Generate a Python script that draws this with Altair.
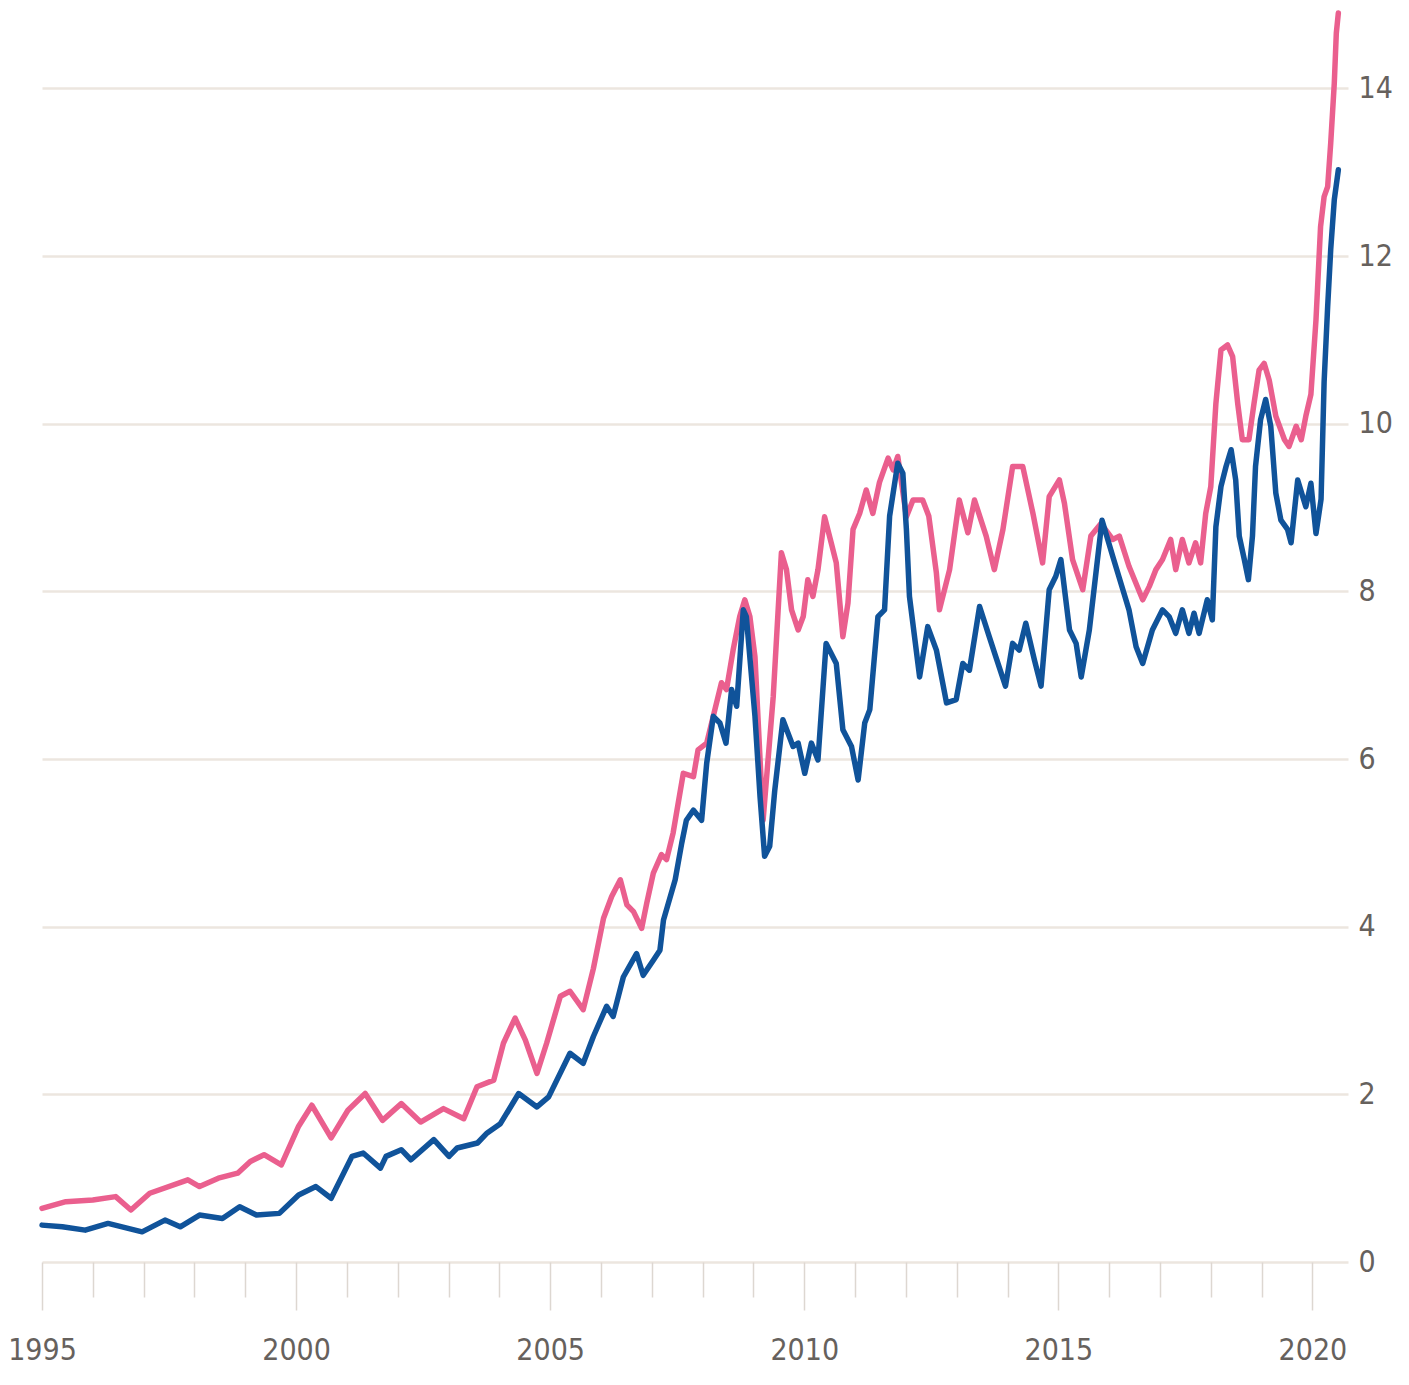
import altair as alt
import pandas as pd

pink_year = [1995.0, 1995.47, 1996.0, 1996.45, 1996.75, 1997.12, 1997.87, 1998.1, 1998.47, 1998.85,
             1999.1, 1999.37, 1999.71, 2000.05, 2000.31, 2000.69, 2001.02, 2001.36, 2001.7, 2002.07,
             2002.45, 2002.9, 2003.3, 2003.56, 2003.89, 2004.08, 2004.31, 2004.51, 2004.74, 2004.93,
             2005.2, 2005.39, 2005.65, 2005.85, 2006.05, 2006.21, 2006.38, 2006.51, 2006.64, 2006.8,
             2006.9, 2007.03, 2007.19, 2007.29, 2007.42, 2007.62, 2007.82, 2007.91, 2008.08, 2008.37,
             2008.47, 2008.6, 2008.73, 2008.83, 2008.93, 2009.03, 2009.19, 2009.39, 2009.55, 2009.65,
             2009.75, 2009.88, 2009.98, 2010.07, 2010.17, 2010.27, 2010.4, 2010.53, 2010.63, 2010.76,
             2010.86, 2010.96, 2011.09, 2011.22, 2011.35, 2011.48, 2011.65, 2011.75, 2011.84, 2012.01,
             2012.14, 2012.33, 2012.45, 2012.6, 2012.66, 2012.86, 2013.05, 2013.22, 2013.35, 2013.58,
             2013.74, 2013.91, 2014.1, 2014.3, 2014.5, 2014.69, 2014.82, 2015.02, 2015.12, 2015.28,
             2015.48, 2015.64, 2015.84, 2016.07, 2016.2, 2016.39, 2016.66, 2016.79, 2016.92, 2017.05,
             2017.21, 2017.31, 2017.44, 2017.57, 2017.7, 2017.8, 2017.9, 2018.0, 2018.1, 2018.2,
             2018.33, 2018.43, 2018.53, 2018.62, 2018.75, 2018.85, 2018.95, 2019.05, 2019.15, 2019.28,
             2019.45, 2019.54, 2019.68, 2019.78, 2019.87, 2019.97, 2020.07, 2020.16, 2020.23, 2020.3,
             2020.36, 2020.43, 2020.47, 2020.51]
pink_value = [0.64, 0.72, 0.74, 0.78, 0.62, 0.82, 0.98, 0.90, 1.00, 1.06,
              1.20, 1.28, 1.16, 1.62, 1.87, 1.48, 1.81, 2.01, 1.69, 1.89,
              1.67, 1.83, 1.71, 2.09, 2.17, 2.61, 2.91, 2.65, 2.25, 2.61,
              3.17, 3.23, 3.01, 3.50, 4.10, 4.36, 4.56, 4.26, 4.18, 3.98,
              4.28, 4.64, 4.86, 4.80, 5.12, 5.83, 5.79, 6.11, 6.19, 6.91,
              6.83, 7.30, 7.70, 7.90, 7.70, 7.22, 5.27, 6.75, 8.46, 8.26,
              7.78, 7.54, 7.70, 8.14, 7.94, 8.26, 8.89, 8.58, 8.34, 7.46,
              7.86, 8.74, 8.93, 9.21, 8.93, 9.30, 9.59, 9.45, 9.61, 8.89,
              9.09, 9.09, 8.90, 8.22, 7.78, 8.26, 9.09, 8.70, 9.09, 8.66,
              8.26, 8.74, 9.49, 9.49, 8.93, 8.34, 9.13, 9.33, 9.05, 8.38,
              8.02, 8.66, 8.81, 8.62, 8.66, 8.30, 7.90, 8.06, 8.26, 8.38,
              8.62, 8.26, 8.62, 8.34, 8.58, 8.34, 8.93, 9.25, 10.24, 10.88,
              10.94, 10.80, 10.24, 9.81, 9.81, 10.24, 10.64, 10.72, 10.52, 10.09,
              9.81, 9.73, 9.97, 9.81, 10.09, 10.35, 11.24, 12.35, 12.71, 12.83,
              13.35, 14.06, 14.66, 14.90]

blue_year = [1995.0, 1995.4, 1995.85, 1996.3, 1996.97, 1997.42, 1997.72, 1998.1, 1998.55, 1998.89,
             1999.22, 1999.67, 2000.05, 2000.39, 2000.69, 2001.1, 2001.32, 2001.66, 2001.77, 2002.07,
             2002.26, 2002.71, 2003.01, 2003.17, 2003.57, 2003.76, 2004.02, 2004.38, 2004.74, 2004.97,
             2005.39, 2005.65, 2005.85, 2006.11, 2006.24, 2006.44, 2006.7, 2006.83, 2007.03, 2007.16,
             2007.23, 2007.46, 2007.59, 2007.68, 2007.82, 2007.98, 2008.08, 2008.21, 2008.34, 2008.46,
             2008.57, 2008.67, 2008.8, 2008.86, 2009.03, 2009.13, 2009.22, 2009.32, 2009.42, 2009.58,
             2009.78, 2009.88, 2010.01, 2010.14, 2010.27, 2010.43, 2010.63, 2010.76, 2010.93, 2011.06,
             2011.19, 2011.29, 2011.45, 2011.58, 2011.68, 2011.84, 2011.94, 2012.01, 2012.07, 2012.27,
             2012.43, 2012.6, 2012.8, 2012.99, 2013.12, 2013.25, 2013.45, 2013.64, 2013.77, 2013.96,
             2014.1, 2014.23, 2014.36, 2014.53, 2014.66, 2014.82, 2014.95, 2015.05, 2015.22, 2015.35,
             2015.45, 2015.61, 2015.86, 2016.07, 2016.27, 2016.39, 2016.53, 2016.66, 2016.85, 2017.05,
             2017.18, 2017.31, 2017.44, 2017.57, 2017.67, 2017.77, 2017.93, 2018.03, 2018.1, 2018.2,
             2018.3, 2018.4, 2018.49, 2018.56, 2018.66, 2018.74, 2018.82, 2018.88, 2018.98, 2019.08,
             2019.18, 2019.28, 2019.38, 2019.51, 2019.58, 2019.71, 2019.87, 2019.97, 2020.07, 2020.17,
             2020.23, 2020.3, 2020.36, 2020.43, 2020.51]
blue_value = [0.44, 0.42, 0.38, 0.46, 0.36, 0.50, 0.42, 0.56, 0.52, 0.66,
              0.56, 0.58, 0.80, 0.90, 0.76, 1.26, 1.30, 1.12, 1.26, 1.34,
              1.22, 1.46, 1.26, 1.36, 1.42, 1.54, 1.65, 2.01, 1.85, 1.97,
              2.49, 2.37, 2.69, 3.05, 2.93, 3.40, 3.68, 3.42, 3.60, 3.72,
              4.08, 4.56, 5.00, 5.27, 5.39, 5.27, 5.95, 6.51, 6.43, 6.19,
              6.83, 6.63, 7.78, 7.70, 6.51, 5.55, 4.84, 4.96, 5.63, 6.47,
              6.15, 6.19, 5.83, 6.19, 5.99, 7.38, 7.14, 6.35, 6.15, 5.75,
              6.43, 6.59, 7.70, 7.78, 8.90, 9.53, 9.41, 8.74, 7.94, 6.98,
              7.58, 7.30, 6.67, 6.71, 7.14, 7.06, 7.82, 7.46, 7.22, 6.87,
              7.38, 7.30, 7.62, 7.18, 6.87, 8.02, 8.18, 8.38, 7.54, 7.38,
              6.98, 7.54, 8.85, 8.42, 8.02, 7.78, 7.34, 7.14, 7.54, 7.78,
              7.70, 7.50, 7.78, 7.50, 7.74, 7.50, 7.90, 7.66, 8.77, 9.25,
              9.49, 9.69, 9.33, 8.66, 8.38, 8.14, 8.66, 9.49, 10.05, 10.29,
              9.97, 9.17, 8.85, 8.74, 8.58, 9.33, 9.01, 9.29, 8.69, 9.10,
              10.50, 11.40, 12.08, 12.67, 13.03]

tick_years = list(range(1995, 2021))
y_ticks = [0, 2, 4, 6, 8, 10, 12, 14]

pink_df = pd.DataFrame({"year": pink_year, "value": pink_value})
blue_df = pd.DataFrame({"year": blue_year, "value": blue_value})

FONT = "Liberation Sans Narrow, DejaVu Sans Condensed, sans-serif"
LABEL_COLOR = "#66615d"
GRID_COLOR = "#ece6df"

x_enc = alt.X(
    "year:Q",
    scale=alt.Scale(domain=[1995, 2020.7], nice=False, zero=False),
    axis=alt.Axis(
        title=None,
        values=tick_years,
        format="d",
        labelExpr="datum.value % 5 === 0 ? datum.label : ''",
        labelOverlap=False,
        labelFlush=False,
        tickSize={"expr": "datum.value % 5 === 0 ? 48 : 35"},
        tickColor="#ddd7d1",
        tickWidth=1.5,
        domain=False,
        grid=False,
        labelPadding=25,
        labelFont=FONT,
        labelFontSize=30,
        labelColor=LABEL_COLOR,
    ),
)
y_enc = alt.Y(
    "value:Q",
    scale=alt.Scale(domain=[0, 14.96], nice=False),
    axis=alt.Axis(
        title=None,
        orient="right",
        values=y_ticks,
        domain=False,
        ticks=False,
        grid=True,
        gridColor=GRID_COLOR,
        gridWidth=2.5,
        labelPadding=10,
        labelAlign="left",
        labelBaseline="middle",
        labelFont=FONT,
        labelFontSize=30,
        labelColor=LABEL_COLOR,
    ),
)

pink = alt.Chart(pink_df).mark_line(
    color="#ea5f8e", strokeWidth=5.5, strokeJoin="round", strokeCap="round"
).encode(x=x_enc, y=y_enc)
blue = alt.Chart(blue_df).mark_line(
    color="#10539a", strokeWidth=5.5, strokeJoin="round", strokeCap="round"
).encode(x=x_enc, y=y_enc)

chart = (
    alt.layer(pink, blue)
    .properties(
        width=1306,
        height=1254,
        padding={"left": 34, "top": 0, "right": 48, "bottom": 108},
        autosize=alt.AutoSizeParams(type="none"),
        background="white",
    )
    .configure_view(stroke=None)
)

chart.save("out.html", embed_options={"renderer": "svg", "actions": False})
